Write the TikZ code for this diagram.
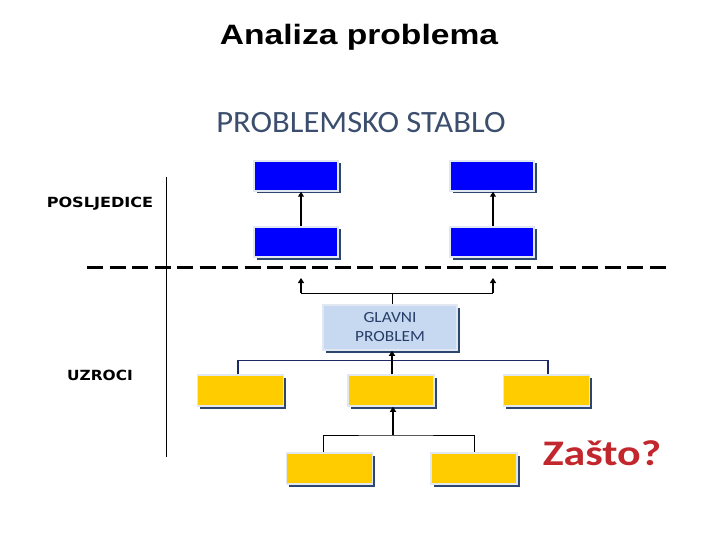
\documentclass[tikz,border=0pt]{standalone}
\usepackage{fontspec}
\usepackage{graphicx}
\setmainfont{Liberation Sans}
\newfontfamily\calib{Carlito}
\newfontfamily\comicf{DejaVu Sans}
\usetikzlibrary{shadows,arrows.meta}
\definecolor{boxblue}{RGB}{0,0,255}
\definecolor{boxyellow}{RGB}{255,204,0}
\definecolor{lightbl}{RGB}{198,217,241}
\definecolor{shadowc}{RGB}{45,70,110}
\definecolor{rimc}{RGB}{225,232,242}
\definecolor{navy}{RGB}{30,40,100}
\definecolor{slate}{RGB}{59,78,110}
\definecolor{zred}{RGB}{193,39,45}
\definecolor{textblue}{RGB}{40,62,105}
\tikzset{
  basebox/.style={draw=rimc, line width=1.5pt, inner sep=0pt,
    drop shadow={shadow xshift=2.5pt, shadow yshift=-2.5pt, fill=shadowc, opacity=1}},
  bluebox/.style={basebox, fill=boxblue, minimum width=84pt, minimum height=30pt},
  yelbox/.style={basebox, fill=boxyellow, minimum width=86pt, minimum height=31pt},
  mainbox/.style={basebox, fill=lightbl, minimum width=134pt, minimum height=45pt,
    align=center, text=textblue},
  arr/.style={line width=1.6pt, -{Triangle[length=5pt,width=6pt]}},
  thin/.style={line width=0.8pt},
  sidelbl/.style={font=\comicf\bfseries\fontsize{14}{16}\selectfont}
}
\begin{document}
\begin{tikzpicture}[x=1pt,y=-1pt]
\useasboundingbox (0,0) rectangle (720,540);
% titles
\node (title) at (359,37) {\scalebox{1.2}[1]{\fontsize{28}{30}\selectfont\bfseries Analiza problema}};
\node[text=slate] (sub) at (361,123) {\scalebox{1.05}[1]{\calib\fontsize{31}{34}\selectfont PROBLEMSKO STABLO}};
% blue boxes
\node[bluebox] (b1) at (296,176) {};
\node[bluebox] (b2) at (492,176) {};
\node[bluebox] (b3) at (296,242) {};
\node[bluebox] (b4) at (492,242) {};
\draw[arr] ([xshift=5pt]b3.north) -- ([xshift=5pt]b1.south);
\draw[arr] ([xshift=1pt]b4.north) -- ([xshift=1pt]b2.south);
% dashed separator
\coordinate (dl) at (87,267);
\coordinate (dr) at (672,267);
\draw[line width=3pt, dash pattern=on 16pt off 6.5pt] (dl) -- (dr);
% vertical axis
\coordinate (vt) at (166,177);
\coordinate (vb) at (166,457);
\draw[line width=0.8pt] (vt) -- (vb);
% main problem
\node[mainbox] (gp) at (390,327.5) {\scalebox{1.12}[1]{\calib\fontsize{15.5}{20}\selectfont\begin{tabular}{@{}c@{}}GLAVNI\\[-1pt]PROBLEM\end{tabular}}};
\coordinate (j1) at (392,293);
\coordinate (a1) at (301,278);
\coordinate (a2) at (493,278);
\coordinate (h1) at (301,293);
\coordinate (h2) at (493,293);
\draw[thin] ([xshift=2pt]gp.north) -- (j1);
\draw[thin] (h1) -- (h2);
\draw[arr] (h1) -- (a1);
\draw[arr] (h2) -- (a2);
% yellow row 1
\node[yelbox] (y1) at (240.5,390.5) {};
\node[yelbox] (y2) at (391,390.5) {};
\node[yelbox] (y3) at (546.5,390.5) {};
\draw[navy, line width=1.4pt] ([xshift=-2.5pt]y1.north) |- ([xshift=1.5pt,yshift=14pt]y3.north) -- ([xshift=1.5pt]y3.north);
\draw[arr] ([xshift=1pt]y2.north) -- ([xshift=2pt]gp.south);
% yellow row 2
\node[yelbox] (y4) at (329.5,468.5) {};
\node[yelbox] (y5) at (474,468.5) {};
\coordinate (j2) at (393,435);
\draw[thin] ([xshift=-6.5pt]y4.north) |- (j2) -| (y5.north);
\draw[arr] (j2) -- ([xshift=2pt]y2.south);
% side labels
\node[sidelbl] (pos) at (100,204) {\scalebox{1.15}[1]{POSLJEDICE}};
\node[sidelbl] (uzr) at (100,375) {\scalebox{1.1}[1]{UZROCI}};
% why
\node[text=zred] (why) at (602,453) {\scalebox{1.22}[1]{\calib\bfseries\fontsize{36}{40}\selectfont Zašto?}};
\end{tikzpicture}
\end{document}
